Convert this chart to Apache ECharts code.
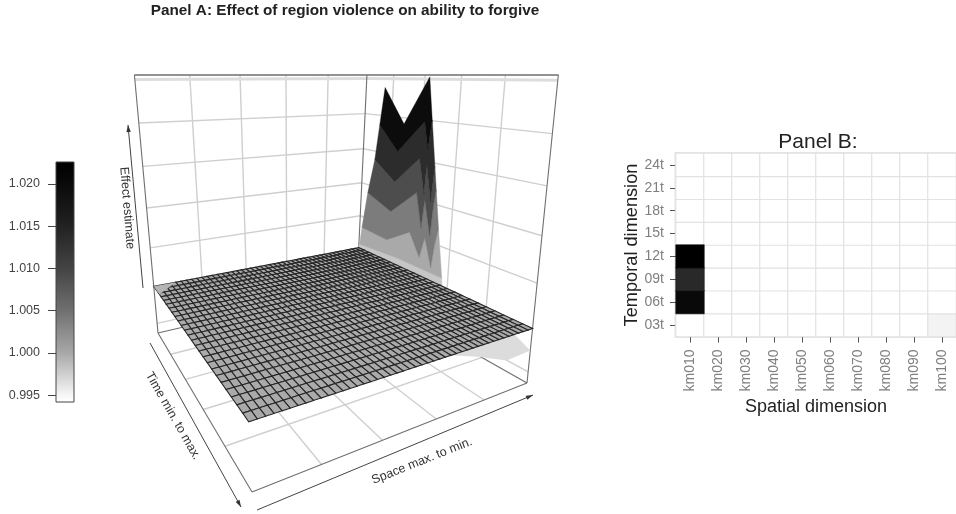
<!DOCTYPE html>
<html><head><meta charset="utf-8">
<style>html,body{margin:0;padding:0;background:#fff}#c{width:956px;height:514px;filter:blur(0.4px)}</style>
<script src="https://cdn.jsdelivr.net/npm/echarts@6/dist/echarts.min.js"></script>
</head><body><div id="c"></div>
<script>
// ---- data ----
const spatialLabels = ['km010','km020','km030','km040','km050','km060','km070','km080','km090','km100'];
const temporalLabels = ['03t','06t','09t','12t','15t','18t','21t','24t'];
const effectKm010 = [1.000,1.0237,1.0192,1.0251,1.000,1.000,1.000,1.000];
const effectKm020 = [1.000,1.000,1.000,1.000,1.000,1.000,1.000,1.000];
const effectKm030 = [1.000,1.000,1.000,1.000,1.000,1.000,1.000,1.000];
const effectKm040 = [1.000,1.000,1.000,1.000,1.000,1.000,1.000,1.000];
const effectKm050 = [1.000,1.000,1.000,1.000,1.000,1.000,1.000,1.000];
const effectKm060 = [1.000,1.000,1.000,1.000,1.000,1.000,1.000,1.000];
const effectKm070 = [1.000,1.000,1.000,1.000,1.000,1.000,1.000,1.000];
const effectKm080 = [1.000,1.000,1.000,1.000,1.000,1.000,1.000,1.000];
const effectKm090 = [1.000,1.000,1.000,1.000,1.000,1.000,1.000,1.000];
const effectKm100 = [1.0012,1.000,1.000,1.000,1.000,1.000,1.000,1.000];
const effectRows = [effectKm010,effectKm020,effectKm030,effectKm040,effectKm050,effectKm060,effectKm070,effectKm080,effectKm090,effectKm100];
// spike along km010: band boundaries as [time, effect], left to right
const spikeBase = [[3,1.000],[15,1.000]];
const spikeContour0 = [[3.1,1.0006],[9,1.0010],[14.9,1.0010]];
const spikeContour1 = [[3.36,1.0033],[7.39,1.0030],[10.56,1.0053],[12,1.0024],[12.56,1.0053],[13.51,1.0017],[13.81,1.0049],[14.15,1.0071]];
const spikeContour2 = [[4.05,1.0088],[7.76,1.0072],[11.2,1.0108],[12,1.0064],[12.27,1.0102],[13.15,1.0058],[13.38,1.0099],[13.59,1.0118]];
const spikeContour3 = [[4.93,1.0138],[8.12,1.0114],[11.32,1.0152],[12.12,1.0108],[12.26,1.0146],[13.0,1.0101],[13.26,1.0146]];
const spikeContour4 = [[5.45,1.0187],[8.32,1.0155],[11.7,1.0198],[12.27,1.0165],[12.6,1.0201]];
const spikeRidge = [[6,effectKm010[1]],[9,effectKm010[2]],[12,effectKm010[3]]];
const spikeBandGrays = ['#c6c6c6','#a9a9a9','#7c7c7c','#4d4d4d','#2c2c2c','#0c0c0c'];
// lattice of the flat sheet
const latticeKm = [10,12,14,16,18,20,22,24,26,28,30,32,34,36,38,40,42,44,46,48,50,52,54,56,58,60,62,64,66,68,70,72,74,76,78,80,82,84,86,88,90,92,94,96,98,100];
const latticeT = [3,3.84,4.68,5.52,6.36,7.2,8.04,8.88,9.72,10.56,11.4,12.24,13.08,13.92,14.76,15.6,16.44,17.28,18.12,18.96,19.8,20.64,21.48,22.32,23.16,24];
const latticeLevel = 1.000;
const rightDip = [[10,24,0.9975],[20,24,0.9973],[32,24,0.9989],[42,24,1.000],[10,20,1.000]];
const leftCorner = [[100,3,1.000],[92,3,1.000],[100,5,1.000]];
// colour scale
const colorbarValues = [0.9942,0.995,1.000,1.005,1.010,1.015,1.020,1.0226];
const colorbarGrays = ['#ffffff','#f6f6f6','#a8a8a8','#707070','#444444','#222222','#0a0a0a','#000000'];
const colorbarTicks = [0.995,1.000,1.005,1.010,1.015,1.020];
const wallFractions = [0,0.2,0.4,0.6,0.8,1];
const wallEffectTicks = [0.995,1.000,1.005,1.010,1.015,1.020];

// ---- perspective scale of the 3D box (image of a camera) ----
const H = 75, V = [335,2270,1];
const cL=[158,333], cF=[252,492], cR=[527,383];
const wL=1, wR=(cL[1]-H)/(cR[1]-H), wF=(cL[1]-H)/(cF[1]-H), wB=wL+wR-wF;
const cB=[(wL*cL[0]+wR*cR[0]-wF*cF[0])/wB,(wL*cL[1]+wR*cR[1]-wF*cF[1])/wB];
const lam=-(cL[1]-H)*wL/(V[1]-H);
const hb=[wB*cB[0],wB*cB[1],wB], hL=[wL*cL[0],wL*cL[1],wL], hR=[wR*cR[0],wR*cR[1],wR];
function proj(s,t,z){
  const h=[0,1,2].map(k=>hb[k]+s*(hL[k]-hb[k])+t*(hR[k]-hb[k])+z*lam*V[k]);
  return [h[0]/h[2]-7*(1-s)*(1-t)*(1-z), h[1]/h[2]];
}
const sOf=km=>(km-10)/90, tOf=t=>(t-3)/21, zOf=v=>0.2+(v-1)/0.005*0.158;
const at=(km,t,v)=>proj(sOf(km),tOf(t),zOf(v));

// ---- wall, floor and frame segments ----
const segs=[];
const GRID={stroke:'#cfcfcf',lineWidth:1.4}, FRAME={stroke:'#6f6f6f',lineWidth:1.1};
function seg(a,b,st){segs.push([a,b,st]);}
wallFractions.slice(1,5).forEach(f=>{
  seg([f,0,0],[f,0,1],GRID); seg([0,f,0],[0,f,1],GRID);
  seg([f,0,0],[f,1,0],GRID); seg([0,f,0],[1,f,0],GRID);
});
wallEffectTicks.forEach(v=>{const z=zOf(v);seg([1,0,z],[0,0,z],GRID);seg([0,0,z],[0,1,z],GRID);});
seg([1,0,0.985],[0,0,0.985],{stroke:'#dddddd',lineWidth:3});seg([0,0,0.985],[0,1,0.985],{stroke:'#dddddd',lineWidth:3});
[[1,0,0,1,0,1],[0,1,0,0,1,1],[0,0,0,0,0,1],[1,0,0,0,0,0],[0,0,0,0,1,0],[1,0,0,1,1,0],[1,1,0,0,1,0],
 [1,0,1,0,0,1],[0,0,1,0,1,1],[1,0,1,1,1,1],[1,1,1,0,1,1]].forEach(q=>seg(q.slice(0,3),q.slice(3,6),FRAME));

// ---- spike bands: each one lies between two boundaries ----
const spikeChains=[spikeBase,spikeContour0,spikeContour1,spikeContour2,spikeContour3,spikeContour4,spikeRidge];
const spikeBands=spikeBandGrays.map((g,i)=>{
  let lower=spikeChains[i], upper=spikeChains[i+1];
  if(i===spikeBandGrays.length-1){
    upper=[[spikeChains[5][0][0],spikeChains[5][0][1]]].concat(spikeRidge,[spikeChains[5][spikeChains[5].length-1]]);
  }
  return {gray:g,nodes:lower.concat(upper.slice().reverse())};
});

// ---- lattice cells ----
const cells=[];
for(let i=0;i<latticeKm.length-1;i++)for(let j=0;j<latticeT.length-1;j++)cells.push([i,j]);

function polyItem(api,pts,style){
  return {type:'polygon',shape:{points:pts.map(p=>api.coord(p))},style};
}
function custom(data,renderItem,z){
  return {type:'custom',xAxisIndex:2,yAxisIndex:2,coordinateSystem:'cartesian2d',clip:false,silent:true,z,data,renderItem};
}
const idx=a=>a.map((_,i)=>[i,0]);

// ---- annotations of the box ----
function arrow(x1,y1,x2,y2){
  const a=Math.atan2(y2-y1,x2-x1),L=7,W=2.2;
  const ux=Math.cos(a),uy=Math.sin(a);
  return [{type:'line',shape:{x1,y1,x2,y2},style:{stroke:'#444',lineWidth:1}},
   {type:'polygon',shape:{points:[[x2,y2],[x2-L*ux+W*uy,y2-L*uy-W*ux],[x2-L*ux-W*uy,y2-L*uy+W*ux]]},style:{fill:'#333'}}];
}
function label(text,x,y,rotation){
  return {type:'text',x,y,rotation,style:{text,align:'center',verticalAlign:'middle',fill:'#333',font:'12.5px "Liberation Sans"'}};
}
const graphics=[].concat(arrow(143,288,128,125),arrow(150,343,241,507),arrow(257,510,533,395),
  [label('Effect estimate',127,208,-1.49),label('Time min. to max.',173,416,-1.05),label('Space max. to min.',422,461,0.38)]);

const heatData=[];
effectRows.forEach((row,i)=>row.forEach((v,j)=>{
  if(v<1.01)heatData.push([i,j,v]);
}));
effectRows.forEach((row,i)=>row.forEach((v,j)=>{
  if(v>=1.01)heatData.push({value:[i,j,v],itemStyle:{borderColor:'#161616',borderWidth:0.6}});
}));

const chart=echarts.init(document.getElementById('c'),null,{renderer:'canvas',width:956,height:514});
chart.setOption({
  animation:false,
  backgroundColor:'#fff',
  title:[
    {text:'Panel A: Effect of region violence on ability to forgive',left:340,top:-2,textAlign:'center',
     textStyle:{fontFamily:'Liberation Sans',fontSize:15.3,fontWeight:'bold',color:'#222'}},
    {text:'Panel B:',left:813,top:127,textAlign:'center',textStyle:{fontFamily:'Liberation Sans',fontSize:21,fontWeight:'normal',color:'#222'}}
  ],
  grid:[
    {left:56,top:162,width:18,height:240,show:true,borderColor:'#444',borderWidth:1,backgroundColor:'transparent',z:5},
    {left:676,top:153.5,width:282,height:183,show:true,borderColor:'#e4e4e4',borderWidth:3,backgroundColor:'#fff'},
    {left:0,top:0,width:956,height:514}
  ],
  xAxis:[
    {gridIndex:0,type:'value',min:0,max:1,show:false},
    {gridIndex:1,type:'category',data:spatialLabels,name:'Spatial dimension',nameLocation:'middle',nameGap:62,
     nameTextStyle:{fontFamily:'Liberation Sans',fontSize:18,color:'#222'},
     axisLine:{show:false},axisTick:{show:true,alignWithLabel:true,length:6,lineStyle:{color:'#555',width:1}},
     axisLabel:{rotate:90,fontFamily:'Liberation Sans',fontSize:14,color:'#7f7f7f',margin:13,interval:0},splitLine:{show:false}},
    {gridIndex:2,type:'value',min:0,max:956,show:false}
  ],
  yAxis:[
    {gridIndex:0,type:'value',min:colorbarValues[0],max:colorbarValues[colorbarValues.length-1],
     axisLine:{show:false},splitLine:{show:false},
     axisTick:{show:true,length:8,lineStyle:{color:'#444',width:1},customValues:colorbarTicks},
     axisLabel:{fontFamily:'Liberation Sans',fontSize:12.5,color:'#444',margin:16,customValues:colorbarTicks,formatter:v=>v.toFixed(3)}},
    {gridIndex:1,type:'category',data:temporalLabels,name:'Temporal dimension',nameLocation:'middle',nameGap:35,
     nameTextStyle:{fontFamily:'Liberation Sans',fontSize:18.2,color:'#222'},
     axisLine:{show:false},axisTick:{show:true,alignWithLabel:true,length:6,lineStyle:{color:'#555',width:1}},
     axisLabel:{fontFamily:'Liberation Sans',fontSize:14,color:'#7f7f7f',margin:12,interval:0},splitLine:{show:false}},
    {gridIndex:2,type:'value',min:0,max:514,inverse:true,show:false}
  ],
  visualMap:[{show:false,type:'continuous',seriesIndex:0,dimension:2,min:1.000,max:1.025,inRange:{color:['#ffffff','#bfbfbf','#808080','#2c2c2c','#000000']}}],
  graphic:graphics,
  series:[
    {type:'heatmap',xAxisIndex:1,yAxisIndex:1,data:heatData,silent:true,
     itemStyle:{borderColor:'#e2e2e2',borderWidth:1.2},emphasis:{disabled:true},progressive:0},
    {type:'custom',xAxisIndex:0,yAxisIndex:0,silent:true,z:3,data:[[0,colorbarValues[7]]],renderItem:(p,api)=>{
      const a=api.coord([0,colorbarValues[7]]),b=api.coord([1,colorbarValues[0]]);
      const span=colorbarValues[7]-colorbarValues[0];
      return {type:'rect',shape:{x:a[0],y:a[1],width:b[0]-a[0],height:b[1]-a[1]},
        style:{fill:new echarts.graphic.LinearGradient(0,0,0,1,colorbarValues.map((v,i)=>({offset:(colorbarValues[7]-v)/span,color:colorbarGrays[i]})).sort((x,y)=>x.offset-y.offset))}};
    }},
    custom(idx(segs),(p,api)=>{
      const s=segs[p.dataIndex],a=api.coord(proj(...s[0])),b=api.coord(proj(...s[1]));
      return {type:'line',shape:{x1:a[0],y1:a[1],x2:b[0],y2:b[1]},style:s[2]};
    },4),
    custom([[0,0]],(p,api)=>polyItem(api,rightDip.map(n=>at(...n)),{fill:'#dcdcdc'}),5),
    custom(idx(spikeBands),(p,api)=>{
      const b=spikeBands[p.dataIndex];
      return polyItem(api,b.nodes.map(n=>at(10,n[0],n[1])),{fill:b.gray,stroke:b.gray,lineWidth:0.4});
    },6),
    custom(cells,(p,api)=>{
      const [i,j]=cells[p.dataIndex];
      const k0=latticeKm[i],k1=latticeKm[i+1],t0=latticeT[j],t1=latticeT[j+1];
      return polyItem(api,[at(k0,t0,latticeLevel),at(k1,t0,latticeLevel),at(k1,t1,latticeLevel),at(k0,t1,latticeLevel)],
        {fill:'#aaaaaa',stroke:'#262626',lineWidth:1.1});
    },7),
    custom([[0,0]],(p,api)=>polyItem(api,leftCorner.map(n=>at(...n)),{fill:'#b4b4b4'}),8)
  ]
});
</script></body></html>
